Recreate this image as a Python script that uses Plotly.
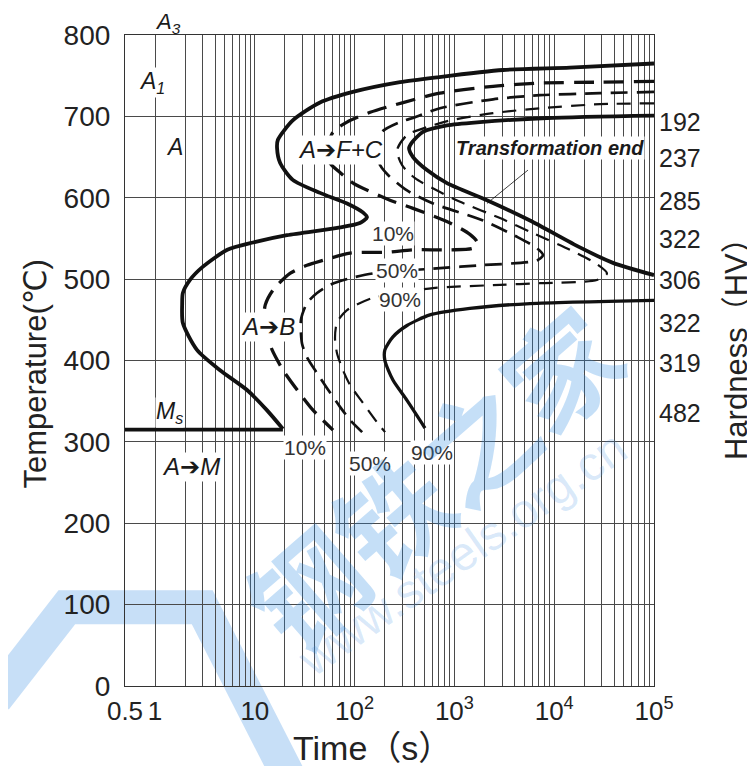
import math
import plotly.graph_objects as go

# ---------------- data (time in s, temperature in degC) ----------------
# transformation start curve (A -> F+C and A -> B), solid
start_t = [1e5, 14390, 3070, 668, 285, 96, 45, 24, 17, 16.7, 17.9, 24, 45, 84, 121, 133,
           113, 67, 21, 9.6, 5.3, 3.0, 2.24, 1.9, 1.87, 1.9, 2.63, 4.48, 8.3, 13.2, 19.1]
start_T = [765, 760, 757, 748, 742, 730, 717, 695, 671, 661, 643, 622, 606, 593, 582, 576,
           569, 563, 554, 545, 536, 515, 499, 483, 470, 446, 413, 388, 364, 339, 316]

# Ms line
ms_t = [0.5, 19.1]
ms_T = [315, 315]

# 10 % transformed (dashed)
p10_t = [1e5, 28700, 7200, 2440, 717, 306, 143, 83.9, 60.8, 52.9, 56.7, 71.4, 96.4, 226, 385,
         903, 1430, 1685, 1540, 903, 385, 211, 89.9, 48.2, 33.3, 22.5, 15.2, 12.7, 12.4, 13.6,
         14.9, 19.2, 26.5, 38.3, 60.8]
p10_T = [743, 742, 741, 737, 728.5, 717, 705, 693, 681, 658.5, 642.5, 631, 618, 597, 587,
         569, 555, 545.5, 538, 536, 536, 533, 532, 523, 517, 507, 486.5, 468, 452, 427.5,
         413, 388, 364, 339, 314.5]

# 50 % transformed (dashed)
p50_t = [1e5, 28700, 7200, 2440, 717, 403, 285, 188, 160, 180, 216, 335, 611, 1935, 4240,
         6720, 7720, 6720, 1805, 717, 285, 153, 89.9, 56.7, 42.0, 33.3, 29.0, 29.7, 33.3,
         42.0, 52.9, 71.4, 89.9, 119]
p50_T = [730, 728.5, 726, 721, 710, 699, 693, 681, 658.5, 640, 628, 609, 593, 572, 552,
         538, 529.5, 523, 517, 513.5, 510, 507, 501, 493, 483, 470.5, 450, 421, 404,
         384.5, 366, 343, 327, 312]

# 90 % transformed (dashed)
p90_t = [1e5, 28700, 7200, 2440, 903, 570, 335, 266, 299, 403, 717, 1140, 2865, 6130, 14400,
         25600, 33800, 26800, 7200, 2865, 611, 285, 153, 83.9, 66.6, 63.6, 66.6, 76.5, 89.9,
         121, 168, 202]
p90_T = [716, 715, 710, 704, 695, 688, 677, 658.5, 640, 624, 607, 595, 575, 556.5, 536,
         520, 507, 499, 495, 493, 489, 483, 477, 462, 447, 427.5, 409, 388, 370,
         348, 324, 312]

# transformation end (F+C), solid
end_t = [1e5, 8460, 1800, 842, 484, 376, 351, 385, 531, 842, 2120, 5720, 18100, 38800, 1e5]
end_T = [701, 698, 693, 689, 681, 668, 661, 650, 634, 618, 597, 572, 539, 520, 505]

# transformation end (bainite), solid
bend_t = [1e5, 5720, 1430, 569, 335, 242, 201, 201, 242, 335, 507]
bend_T = [474, 470, 464, 456, 443, 429, 413, 400, 376, 351, 317]

# leader line of "Transformation end"
lead_t = [5460, 2120]
lead_T = [634, 593]

# hardness values (HV) at the right side and their temperature levels
hv_labels = ["192", "237", "285", "322", "306", "322", "319", "482"]
hv_T = [693, 649, 596, 549, 499, 446, 397, 335]

x_tickvals = [0.5, 1, 10, 100, 1000, 10000, 100000]
x_ticktext = ["0.5", "1", "10", "10<sup>2</sup>", "10<sup>3</sup>", "10<sup>4</sup>", "10<sup>5</sup>"]
x_minor = [m * 10 ** k for k in range(0, 5) for m in range(2, 10)]
y_tickvals = list(range(0, 801, 100))

# ---------------- figure ----------------
FONT = "Liberation Sans, Arial, DejaVu Sans, Noto Sans CJK SC, sans-serif"
INK = "#111111"
ARROW = "<span style='font-family:DejaVu Sans'>➔</span>"
fig = go.Figure()


def add_line(t, T, width, dash="solid", smooth=True):
    fig.add_trace(go.Scatter(
        x=t, y=T, mode="lines",
        line=dict(color=INK, width=width, dash=dash,
                  shape="spline" if smooth else "linear", smoothing=0.7),
        hoverinfo="skip", showlegend=False))


add_line(start_t, start_T, 3.8)
add_line(ms_t, ms_T, 3.8, smooth=False)
add_line(end_t, end_T, 3.8)
add_line(bend_t, bend_T, 3.3)
add_line(p10_t, p10_T, 3.3, dash="20px,10px")
add_line(p50_t, p50_T, 2.7, dash="17px,9px")
add_line(p90_t, p90_T, 2.2, dash="14px,9px")
add_line(lead_t, lead_T, 0.8, smooth=False)

ann = []


def label(t, T, text, size, italic=False, bold=False, bg="white", color="#1a1a1a"):
    if italic:
        text = "<i>" + text + "</i>"
    if bold:
        text = "<b>" + text + "</b>"
    ann.append(dict(x=math.log10(t), y=T, xref="x", yref="y", text=text, showarrow=False,
                    font=dict(family=FONT, size=size, color=color),
                    bgcolor=bg, borderpad=0, xanchor="center", yanchor="middle"))


label(0.93, 742, "A<sub>1</sub>", 23, italic=True)
label(1.58, 662, "A", 23, italic=True)
label(71.4, 658.5, "A" + ARROW + "F+C", 24, italic=True)
label(9080, 661, "Transformation end", 20, italic=True, bold=True)
label(243, 556.5, "10%", 21, color="#333")
label(266, 511, "50%", 21, color="#333")
label(285, 475, "90%", 21, color="#333")
label(13.6, 441, "A" + ARROW + "B", 24, italic=True)
label(1.41, 336.6, "M<sub>s</sub>", 23, italic=True)
label(2.29, 269, "A" + ARROW + "M", 24, italic=True)
label(31.8, 293.6, "10%", 21, color="#333")
label(143, 274, "50%", 21, color="#333")
label(597, 287.5, "90%", 21, color="#333")

# A3 sits above the frame
ann.append(dict(x=(168 - 125) / 529, y=1.019, xref="paper", yref="paper",
                text="<i>A<sub>3</sub></i>", showarrow=False,
                font=dict(family=FONT, size=22, color="#1a1a1a"),
                xanchor="center", yanchor="middle"))

for txt, T in zip(hv_labels, hv_T):
    ann.append(dict(x=1.049, y=T, xref="paper", yref="y", text=txt, showarrow=False,
                    font=dict(family=FONT, size=25, color="#222"), xanchor="center",
                    yanchor="middle"))

# axis titles
ann.append(dict(x=0.467, y=-0.095, xref="paper", yref="paper", text="Time（s）",
                showarrow=False, font=dict(family=FONT, size=34, color="#222"),
                xanchor="center", yanchor="middle"))
ann.append(dict(x=-0.17, y=0.48, xref="paper", yref="paper", text="Temperature(℃)",
                showarrow=False, textangle=-90, font=dict(family=FONT, size=31, color="#222"),
                xanchor="center", yanchor="middle"))
ann.append(dict(x=1.157, y=0.53, xref="paper", yref="paper", text="Hardness（HV）",
                showarrow=False, textangle=-90, font=dict(family=FONT, size=31, color="#222"),
                xanchor="center", yanchor="middle"))

# watermark (text + logo outline)
ann.append(dict(x=0.58, y=0.322, xref="paper", yref="paper", text="<b>钢铁之家</b>",
                showarrow=False, textangle=-41, xanchor="center", yanchor="middle",
                font=dict(family="Noto Sans CJK SC", size=112, color="rgba(40,135,225,0.27)")))
ann.append(dict(x=0.637, y=0.204, xref="paper", yref="paper", text="www.steels.org.cn",
                showarrow=False, textangle=-35, xanchor="center", yanchor="middle",
                font=dict(family="Liberation Sans", size=48, color="rgba(60,140,225,0.2)")))

logo_path = "M -0.245,-0.02 L -0.11,0.121 L 0.146,0.121 L 0.31,-0.14"
fig.add_shape(type="path", path=logo_path, xref="paper", yref="paper", layer="below",
              line=dict(color="rgba(70,150,230,0.30)", width=34))

grid_col = "#4a4a4a"
fig.update_layout(
    width=747, height=758,
    margin=dict(l=117, r=101, t=27, b=80, autoexpand=False),
    paper_bgcolor="white", plot_bgcolor="rgba(0,0,0,0)",
    annotations=ann,
    xaxis=dict(type="log", range=[math.log10(0.5), 5], tickvals=x_tickvals, ticktext=x_ticktext,
               tickfont=dict(family=FONT, size=26, color="#222"), ticks="", ticklabelstandoff=2,
               showgrid=True, gridcolor=grid_col, gridwidth=1, automargin=False,
               minor=dict(tickvals=x_minor, showgrid=True, gridcolor=grid_col, gridwidth=0.9, ticks=""),
               showline=True, linecolor="#333", linewidth=1.2, mirror=True, zeroline=False),
    yaxis=dict(range=[0, 800], tickvals=y_tickvals, automargin=False,
               tickfont=dict(family=FONT, size=28, color="#222"), ticks="", ticklabelstandoff=8,
               showgrid=True, gridcolor=grid_col, gridwidth=1,
               showline=True, linecolor="#333", linewidth=1.2, mirror=True, zeroline=False),
)

fig.write_html("out.html")
